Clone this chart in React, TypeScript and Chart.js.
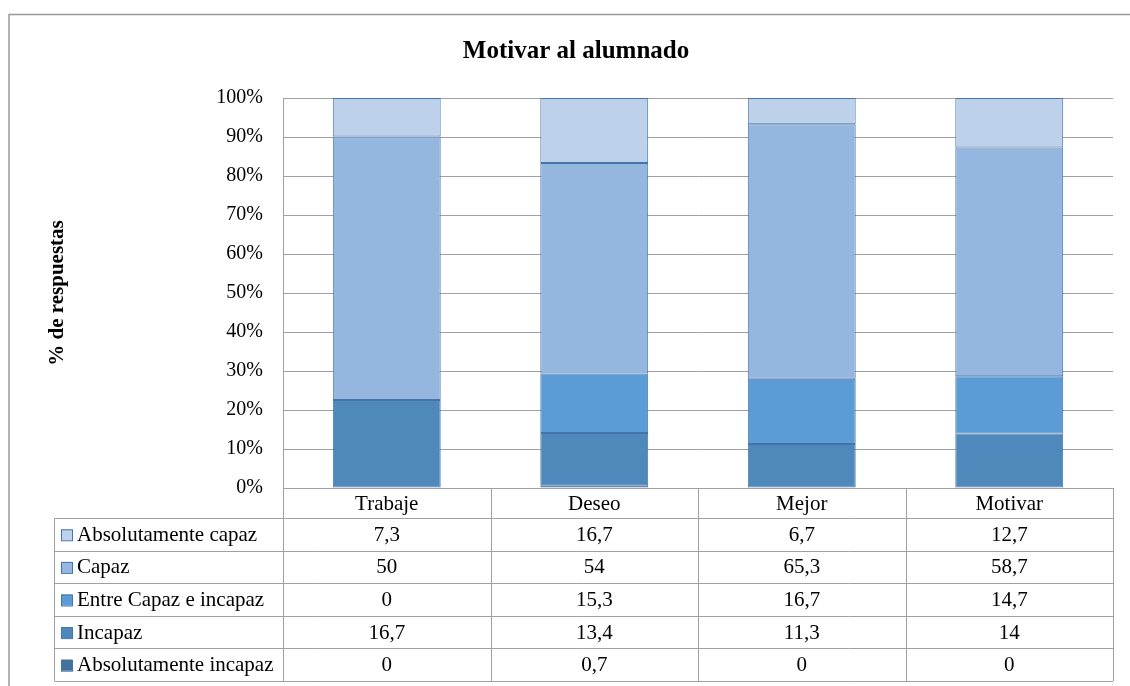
import React, { useEffect, useRef } from "react";
import { Chart, registerables } from "chart.js";

Chart.register(...registerables);

const categories = ["Trabaje", "Deseo", "Mejor", "Motivar"];
const seriesNames = [
  "Absolutamente capaz",
  "Capaz",
  "Entre Capaz e incapaz",
  "Incapaz",
  "Absolutamente incapaz",
];
const absCapaz = [7.3, 16.7, 6.7, 12.7];
const capaz = [50, 54, 65.3, 58.7];
const entre = [0, 15.3, 16.7, 14.7];
const incapaz = [16.7, 13.4, 11.3, 14];
const absIncapaz = [0, 0.7, 0, 0];
const yTicks = [0, 10, 20, 30, 40, 50, 60, 70, 80, 90, 100];

const seriesValues = [absCapaz, capaz, entre, incapaz, absIncapaz];
const seriesColors = ["#BDD1EA", "#95B7DF", "#5B9BD6", "#4F89BC", "#41719C"];
const borderColor = "#4674A8";
const gridColor = "#a0a0a0";
const SERIF = "'Liberation Serif', 'Times New Roman', serif";

export default function App() {
  const ref = useRef<HTMLCanvasElement>(null);
  useEffect(() => {
    if (!ref.current) return;
    const totals = categories.map((_, i) =>
      seriesValues.reduce((s, arr) => s + arr[i], 0)
    );
    // stacking order bottom -> top
    const order = [4, 3, 2, 1, 0];
    const datasets = order.map((k) => ({
      label: seriesNames[k],
      data: seriesValues[k].map((v, i) => (v / totals[i]) * 100),
      backgroundColor: seriesColors[k],
      borderColor: borderColor,
      borderWidth: 1,
      borderSkipped: false as any,
      categoryPercentage: 1,
      barPercentage: 0.52,
    }));

    const tablePlugin = {
      id: "tablePlugin",
      afterDraw(chart: any) {
        const ctx = chart.ctx as CanvasRenderingContext2D;
        const area = chart.chartArea;
        ctx.save();
        // outer border
        ctx.strokeStyle = "#999999";
        ctx.lineWidth = 1.5;
        ctx.strokeRect(9, 14.5, 1140, 700);

        // title
        ctx.fillStyle = "#000";
        ctx.font = `bold 25px ${SERIF}`;
        ctx.textAlign = "center";
        ctx.textBaseline = "middle";
        ctx.fillText("Motivar al alumnado", 576, 52);

        // y axis title
        ctx.save();
        ctx.translate(58, (area.top + area.bottom) / 2);
        ctx.rotate(-Math.PI / 2);
        ctx.font = `bold 21px ${SERIF}`;
        ctx.fillText("% de respuestas", 0, 0);
        ctx.restore();

        // table
        const n = categories.length;
        const colW = (area.right - area.left) / n;
        const leftX = 54.5;
        const headerBottom = area.bottom + 30;
        const rowH = 32.6;
        const rowsBottom = headerBottom + rowH * seriesNames.length;
        ctx.strokeStyle = gridColor;
        ctx.lineWidth = 1;
        ctx.beginPath();
        for (let i = 0; i <= n; i++) {
          const x = Math.round(area.left + i * colW) + 0.5;
          ctx.moveTo(x, area.bottom);
          ctx.lineTo(x, rowsBottom);
        }
        ctx.moveTo(leftX, headerBottom);
        ctx.lineTo(leftX, rowsBottom);
        for (let r = 0; r <= seriesNames.length; r++) {
          const y = Math.round(headerBottom + r * rowH) + 0.5;
          ctx.moveTo(leftX, y);
          ctx.lineTo(area.right, y);
        }
        ctx.stroke();

        ctx.fillStyle = "#000";
        ctx.font = `21px ${SERIF}`;
        ctx.textAlign = "center";
        ctx.textBaseline = "middle";
        const xs = chart.scales.x;
        categories.forEach((c, i) => {
          ctx.fillText(c, xs.getPixelForValue(i), (area.bottom + headerBottom) / 2 + 1);
        });
        seriesNames.forEach((name, r) => {
          const cy = headerBottom + r * rowH + rowH / 2 + 1;
          // legend square
          ctx.fillStyle = seriesColors[r];
          ctx.fillRect(61, cy - 6, 11, 11);
          ctx.strokeStyle = borderColor;
          ctx.strokeRect(61.5, cy - 5.5, 11, 11);
          ctx.fillStyle = "#000";
          ctx.textAlign = "left";
          ctx.fillText(name, 77, cy);
          ctx.textAlign = "center";
          seriesValues[r].forEach((v, i) => {
            ctx.fillText(String(v).replace(".", ","), xs.getPixelForValue(i), cy);
          });
        });
        ctx.restore();
      },
    };

    const chart = new Chart(ref.current, {
      type: "bar",
      data: { labels: categories, datasets },
      options: {
        responsive: false,
        animation: false,
        layout: { padding: { top: 98, bottom: 686 - 488, left: 0, right: 17 } },
        plugins: {
          legend: { display: false },
          title: { display: false },
          tooltip: { enabled: false },
        },
        scales: {
          x: {
            stacked: true,
            display: false,
          },
          y: {
            stacked: true,
            min: 0,
            max: 100,
            afterFit(scale: any) {
              scale.width = 283;
            },
            afterBuildTicks(scale: any) {
              scale.ticks = yTicks.map((v) => ({ value: v }));
            },
            ticks: {
              padding: 20,
              color: "#000",
              font: { family: SERIF, size: 20 },
              callback: (v: any) => `${v}%`,
            },
            grid: { color: gridColor, drawTicks: false, lineWidth: 1 },
            border: { display: true, color: gridColor },
          },
        },
      },
      plugins: [tablePlugin],
    });
    return () => chart.destroy();
  }, []);

  return (
    <div style={{ position: "absolute", left: 0, top: 0, width: 1130, height: 686, background: "#fff" }}>
      <canvas ref={ref} width={1130} height={686} />
    </div>
  );
}
